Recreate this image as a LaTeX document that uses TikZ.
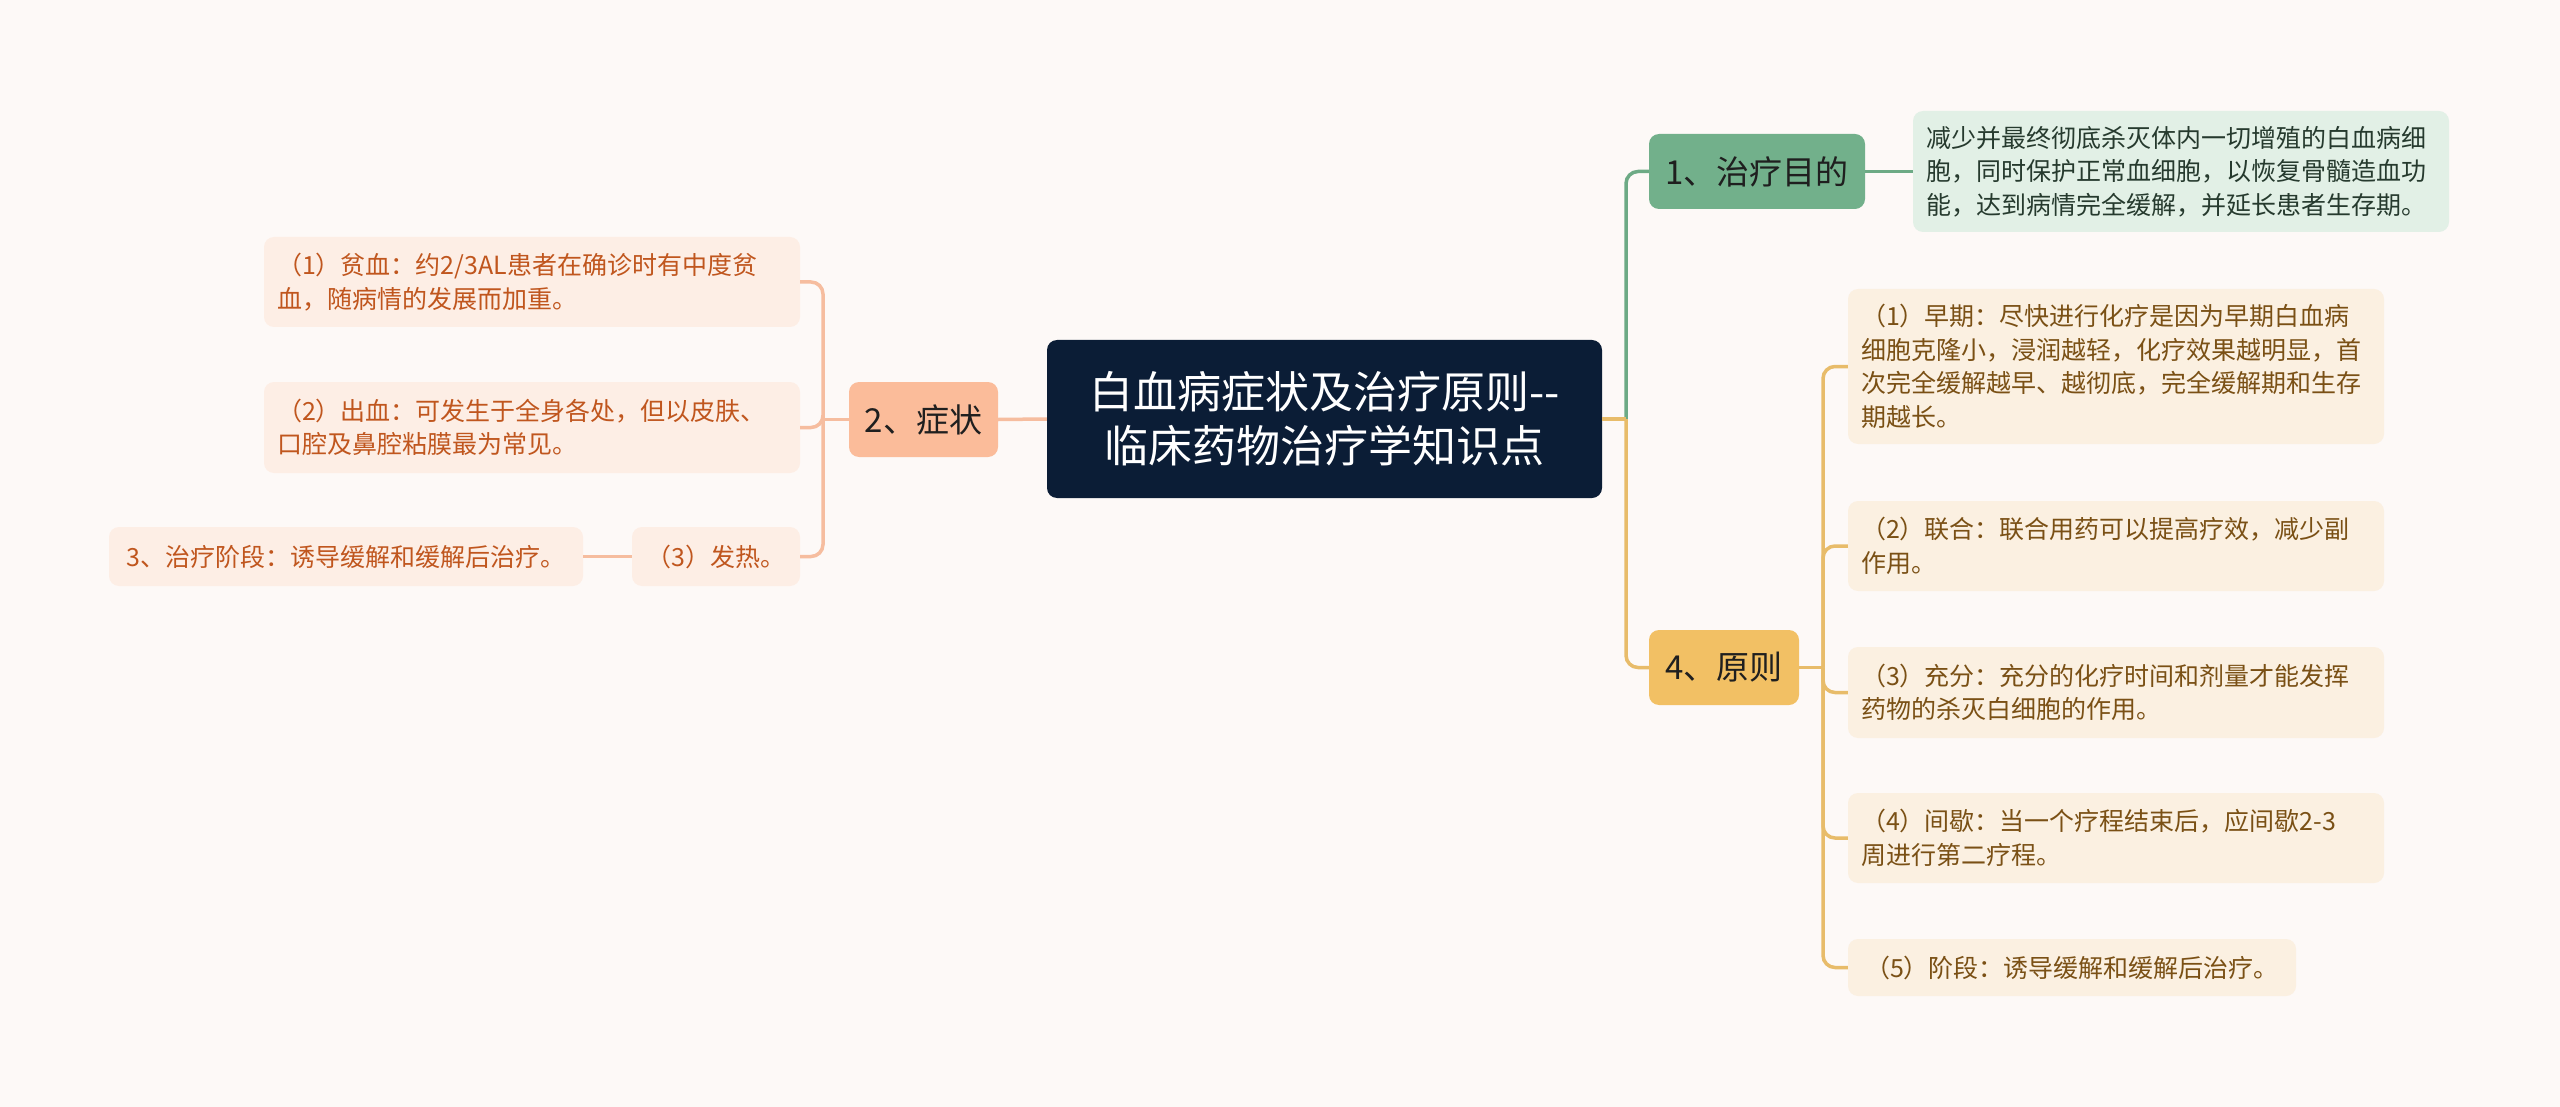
\documentclass[tikz,border=0pt]{standalone}
\usepackage{fontspec}
\newfontfamily\cjk{Noto Sans CJK SC}
\definecolor{bgc}{HTML}{FDF9F7}
\definecolor{navy}{HTML}{0B1D36}
\definecolor{gfill}{HTML}{72B08B}
\definecolor{gdet}{HTML}{E2F0E6}
\definecolor{gline}{HTML}{6DAA85}
\definecolor{gtext}{HTML}{263A2E}
\definecolor{ofill}{HTML}{F2C064}
\definecolor{oline}{HTML}{E8BC6A}
\definecolor{okid}{HTML}{FBF0E1}
\definecolor{otext}{HTML}{7A5015}
\definecolor{pfill}{HTML}{FBBC9A}
\definecolor{pline}{HTML}{F6BD9F}
\definecolor{pkid}{HTML}{FDEEE5}
\definecolor{ptext}{HTML}{C0561E}
\definecolor{btext}{HTML}{1F1F1F}
\begin{document}
\begin{tikzpicture}[x=1pt,y=-1pt,
  base/.style={rounded corners=10pt, inner sep=0pt, inner xsep=13pt, align=left},
  small/.style={font={\cjk\fontsize{25}{33.5}\selectfont}},
  branch/.style={base, font={\cjk\fontsize{33}{40}\selectfont}, text=btext, align=center},
  gl/.style={draw=gline, line width=3.5pt},
  ol/.style={draw=oline, line width=3.5pt},
  pl/.style={draw=pline, line width=3.5pt},
  okidbox/.style={base, small, fill=okid, text=otext},
  pkidbox/.style={base, small, fill=pkid, text=ptext},
]
\useasboundingbox (0,0) rectangle (2560,1107);
\fill[bgc] (0,0) rectangle (2560,1107);

% central node
\node[base, fill=navy, text=white, align=center, minimum width=555pt, minimum height=158pt,
  font={\cjk\fontsize{44}{54}\selectfont}] (c) at (1324.5,419) {白血病症状及治疗原则--\\临床药物治疗学知识点};

% right: 1
\node[branch, fill=gfill, minimum width=216pt, minimum height=75pt] (n1) at (1757,171.5) {1、治疗目的};
\node[base, small, fill=gdet, text=gtext, text width=510pt, minimum height=121pt] (d1) at (2181,171.5)
 {减少并最终彻底杀灭体内一切增殖的白血病细\\胞，同时保护正常血细胞，以恢复骨髓造血功\\能，达到病情完全缓解，并延长患者生存期。};

% right: 4
\node[branch, fill=ofill, minimum width=150pt, minimum height=75pt] (n4) at (1724,667.5) {4、原则};
\node[okidbox, text width=510pt, minimum height=155pt] (r1) at (2116,366.5)
 {（1）早期：尽快进行化疗是因为早期白血病\\细胞克隆小，浸润越轻，化疗效果越明显，首\\次完全缓解越早、越彻底，完全缓解期和生存\\期越长。};
\node[okidbox, text width=510pt, minimum height=90pt] (r2) at (2116,546)
 {（2）联合：联合用药可以提高疗效，减少副\\作用。};
\node[okidbox, text width=510pt, minimum height=91pt] (r3) at (2116,692.5)
 {（3）充分：充分的化疗时间和剂量才能发挥\\药物的杀灭白细胞的作用。};
\node[okidbox, text width=510pt, minimum height=90pt] (r4) at (2116,838)
 {（4）间歇：当一个疗程结束后，应间歇2-3\\周进行第二疗程。};
\node[okidbox, inner xsep=0pt, minimum width=448pt, minimum height=57pt] (r5) at (2072,967.5)
 {（5）阶段：诱导缓解和缓解后治疗。};

% left: 2
\node[branch, fill=pfill, minimum width=149pt, minimum height=75pt] (n2) at (923.5,419.5) {2、症状};
\node[pkidbox, text width=510pt, minimum height=90pt] (l1) at (532,282)
 {（1）贫血：约2/3AL患者在确诊时有中度贫\\血，随病情的发展而加重。};
\node[pkidbox, text width=510pt, minimum height=91pt] (l2) at (532,427.5)
 {（2）出血：可发生于全身各处，但以皮肤、\\口腔及鼻腔粘膜最为常见。};
\node[pkidbox, inner xsep=0pt, minimum width=168pt, minimum height=59pt] (l3) at (716,556.5)
 {（3）发热。};
\node[pkidbox, inner xsep=0pt, minimum width=474pt, minimum height=59pt] (l3x) at (346,556.5)
 {3、治疗阶段：诱导缓解和缓解后治疗。};

% connectors right
\coordinate (jr) at (1626,419);
\coordinate (jr4) at (1823,667.5);
\draw[gl, rounded corners=12pt] (jr) |- (n1.west);
\draw[ol] (c.east) -- (jr);
\draw[ol, rounded corners=12pt] (jr) |- (n4.west);
\draw[gl] (n1.east) -- (d1.west);
\draw[ol] (n4.east) -- (jr4);
\foreach \k in {r1,r2,r3,r4,r5}{
  \draw[ol, rounded corners=12pt] (jr4) |- (\k.west);
}

% connectors left
\coordinate (jl) at (823,419.5);
\draw[pl] (c.west) -- (n2.east);
\draw[pl] (n2.west) -- (jl);
\foreach \k in {l1,l2,l3}{
  \draw[pl, rounded corners=12pt] (jl) |- (\k.east);
}
\draw[pl] (l3.west) -- (l3x.east);
\end{tikzpicture}
\end{document}
